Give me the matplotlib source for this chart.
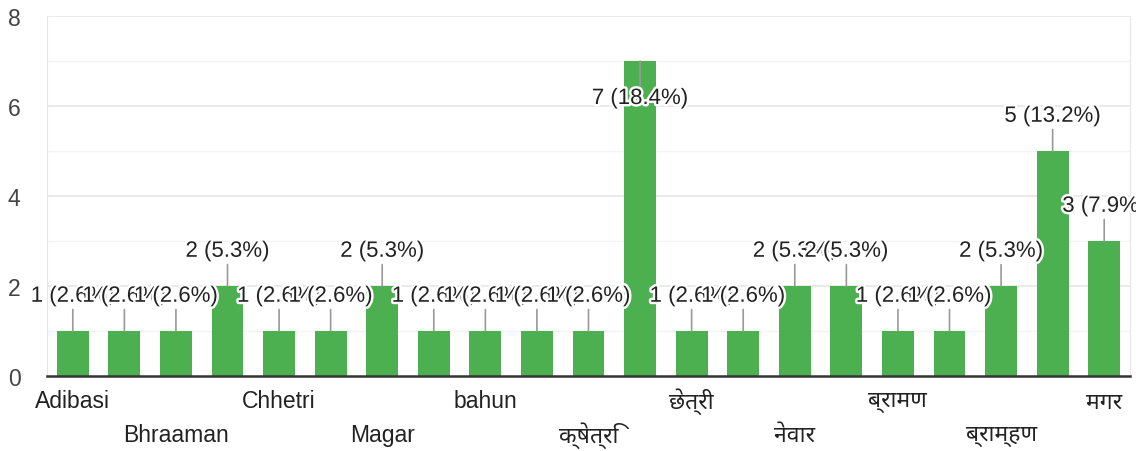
import matplotlib
matplotlib.use("Agg")
import matplotlib.pyplot as plt
import matplotlib.patheffects as pe
import logging

logging.getLogger("matplotlib.font_manager").setLevel(logging.ERROR)

# categories (odd positions have labels that are hidden in the original chart)
categories = ["Adibasi", "", "Bhraaman", "", "Chhetri", "", "Magar", "",
              "bahun", "", "क्षेत्रि", "", "छेत्री", "", "नेवार", "",
              "ब्रामण", "", "ब्राम्हण", "", "मगर"]
counts = [1, 1, 1, 2, 1, 1, 2, 1, 1, 1, 1, 7, 1, 1, 2, 2, 1, 1, 2, 5, 3]

plt.rcParams['font.family'] = ['Liberation Sans', 'Noto Sans Devanagari', 'Lohit Devanagari',
                               'FreeSans', 'Noto Sans', 'DejaVu Sans']

total = sum(counts)
x = list(range(len(counts)))

fig = plt.figure(figsize=(11.36, 4.52), dpi=100)
ax = fig.add_axes([47 / 1136, 1 - 377 / 452, 1083 / 1136, 360 / 452])

# grid
for y in [1, 3, 5, 7]:
    ax.axhline(y, color='#f3f3f3', lw=1, zorder=0)
for y in [2, 4, 6, 8]:
    ax.axhline(y, color='#e6e6e6', lw=1.2, zorder=0)

ax.bar(x, counts, width=0.62, color='#4caf50', zorder=2)

# value labels with leader lines
for i, v in enumerate(counts):
    label = f"{v} ({v / total * 100:.1f}%)"
    off = 25 if v < 7 else -27
    ax.annotate(label, xy=(i, v), xytext=(0, off), textcoords='offset points',
                ha='center', va='center', fontsize=16, color='#222222',
                path_effects=[pe.withStroke(linewidth=3.5, foreground='white')],
                arrowprops=dict(arrowstyle='-', color='#999999', lw=1.2,
                                shrinkA=0, shrinkB=0),
                zorder=3)

ax.set_xlim(-0.5, len(counts) - 0.5)
ax.set_ylim(0, 8)
ax.set_yticks([0, 2, 4, 6, 8])
ax.set_xticks([])
ax.tick_params(axis='y', length=0, pad=19, labelsize=16.5, labelcolor='#444444')

# alternate row x labels
shown = [i for i, c in enumerate(categories) if c]
for k, i in enumerate(shown):
    dy = -18 if k % 2 == 0 else -42
    ax.annotate(categories[i], xy=(i, 0), xycoords=('data', 'axes fraction'),
                xytext=(0, dy), textcoords='offset points',
                ha='center', va='center', fontsize=16.5, color='#222222',
                annotation_clip=False)

ax.spines['top'].set_visible(False)
ax.spines['left'].set_color('#e6e6e6')
ax.spines['right'].set_color('#e6e6e6')
ax.spines['bottom'].set_color('#333333')
ax.spines['bottom'].set_linewidth(1.8)
ax.spines['bottom'].set_zorder(4)

fig.savefig("out.png", dpi=100)
